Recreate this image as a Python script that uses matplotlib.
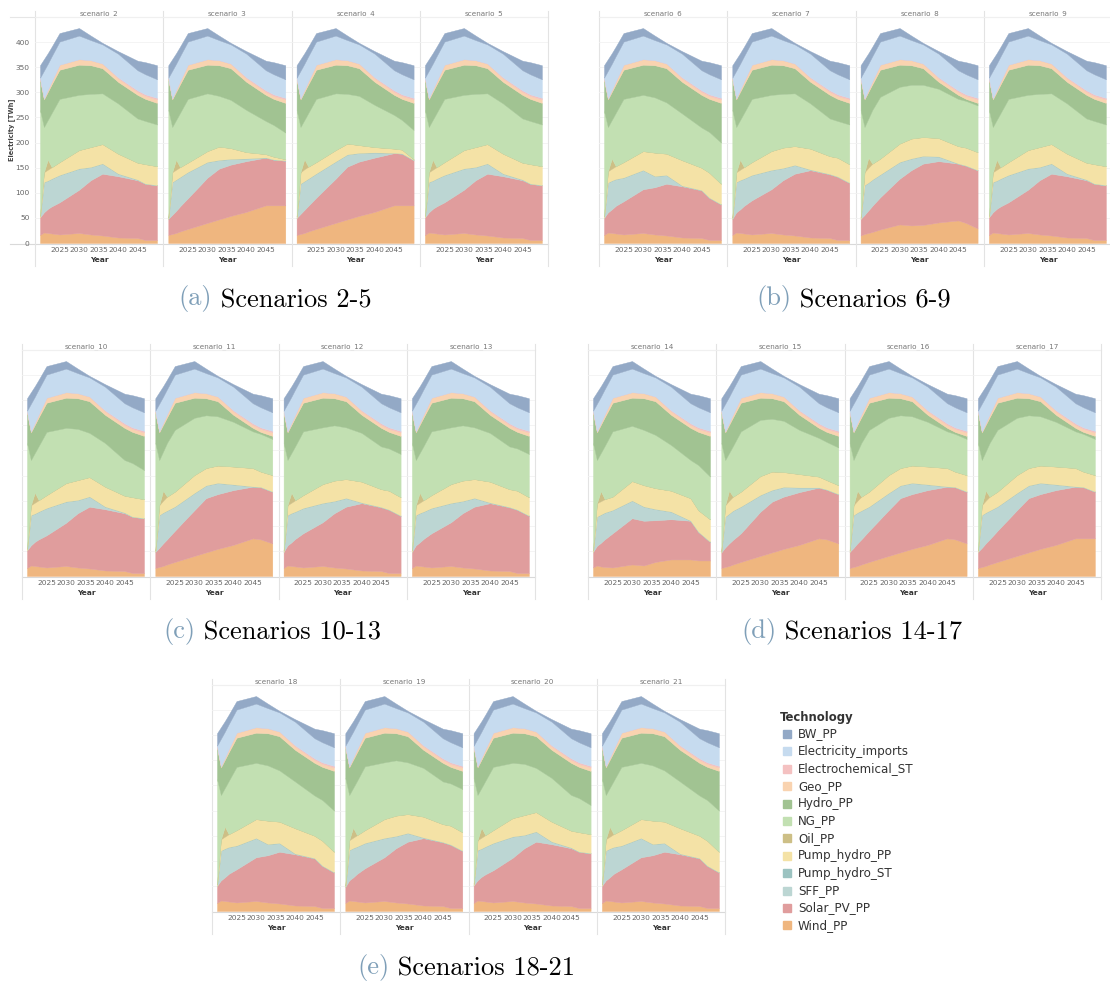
import matplotlib
matplotlib.use("Agg")
import matplotlib.pyplot as plt
from matplotlib.patches import Rectangle
import numpy as np

W, H = 1110, 981
PW = 128.3          # width of one facet panel, px
PH = 226            # height of plot area, px

YEARS = [2020, 2021, 2022, 2023, 2025, 2030, 2033, 2036, 2040, 2045, 2047, 2050]

TECHS = ['BW_PP', 'Electricity_imports', 'Electrochemical_ST', 'Geo_PP', 'Hydro_PP',
         'NG_PP', 'Oil_PP', 'Pump_hydro_PP', 'Pump_hydro_ST', 'SFF_PP',
         'Solar_PV_PP', 'Wind_PP']
COLORS = ['#93a9c6', '#c6dbef', '#f4c1c1', '#f9d3b0', '#a1c392',
          '#c2e0b2', '#cdbf86', '#f4e2a6', '#9cc3c1', '#bcd6d3',
          '#e09d9d', '#efb67f']

# layers shared by all scenarios (TWh)
OIL = [0, 0, 20, 0, 0, 0, 0, 0, 0, 0, 0, 0]
PHST = [0, 0.5, 0.5, 0.5, 0.5, 0.5, 0.5, 0.5, 0.5, 0.5, 0.5, 0.5]
HYDRO_TOP = [325, 286, 301, 316, 345, 355, 354, 348, 321, 295, 287, 279]
GEO = [3, 2, 4, 6, 10, 11, 10, 9, 7, 6, 6, 7]
ECHEM = [0, 0, 0, 0, 0, 0, 0, 0.5, 2, 3, 3, 3]
IMPORTS = [1, 55, 52, 50, 46, 47, 40, 38, 47, 40, 40, 37]
BW = [25, 23, 21, 19, 17, 15, 9, 3, 5, 19, 24, 28]

# wind generation
WIND_LOW = [16, 21, 20, 19, 17, 20, 17, 15, 11, 10, 6, 6]
WIND_RAMP = [16, 18, 20, 23, 28, 40, 47, 54, 62, 75, 75, 75]
WIND_RAMP2 = [16, 18, 20, 23, 28, 40, 47, 54, 62, 75, 73, 65]
WIND_MID = [15, 18, 20, 22, 27, 37, 35, 36, 41, 45, 40, 29]
WIND_S14 = [17, 21, 19, 18, 17, 23, 21, 28, 33, 33, 31, 31]

# upper edge of the solar band
SOLAR_A = [51, 61, 68, 73, 81, 106, 125, 138, 133, 125, 118, 115]
SOLAR_B = [48, 61, 67, 74, 85, 107, 125, 138, 145, 137, 132, 120]
SOLAR_C = [50, 61, 67, 74, 83, 107, 111, 118, 113, 105, 90, 77]
SOLAR_14 = [48, 60, 66, 73, 85, 115, 110, 111, 113, 110, 88, 68]
SOLAR_H = [48, 56, 64, 73, 89, 130, 148, 156, 163, 170, 166, 164]
SOLAR_H4 = [50, 58, 66, 74, 90, 128, 152, 162, 170, 179, 178, 165]
SOLAR_H11 = [48, 56, 65, 73, 90, 131, 155, 163, 171, 178, 177, 168]
SOLAR_H15 = [47, 57, 65, 72, 85, 128, 148, 158, 167, 176, 172, 163]
SOLAR_M = [48, 56, 65, 74, 91, 128, 145, 158, 163, 158, 154, 145]

# upper edge of the SFF band
SFF_A = [51, 121, 124, 128, 135, 148, 151, 158, 138, 126, 118, 115]
SFF_B = [48, 121, 125, 128, 135, 145, 149, 155, 146, 137, 132, 120]
SFF_C = [50, 120, 124, 127, 130, 145, 133, 135, 114, 105, 90, 77]
SFF_14 = [48, 118, 122, 126, 131, 150, 138, 133, 128, 110, 88, 68]
SFF_H = [48, 121, 126, 131, 141, 161, 165, 167, 168, 170, 166, 164]
SFF_H4 = [50, 118, 123, 128, 138, 162, 176, 179, 180, 179, 178, 165]
SFF_H11 = [48, 121, 126, 130, 138, 165, 180, 185, 182, 178, 177, 168]
SFF_H15 = [47, 118, 124, 130, 138, 161, 171, 177, 176, 176, 172, 163]
SFF_M = [48, 115, 120, 126, 136, 161, 168, 173, 172, 158, 154, 145]

# upper edge of the pump hydro band
PUMP_A = [54, 141, 146, 151, 161, 185, 191, 197, 178, 160, 157, 153]
PUMP_B = [51, 141, 146, 151, 161, 183, 190, 193, 188, 173, 170, 157]
PUMP_C = [53, 143, 148, 153, 161, 183, 180, 178, 165, 150, 140, 118]
PUMP_14 = [51, 145, 149, 153, 158, 189, 181, 175, 170, 155, 131, 113]
PUMP_H = [51, 141, 146, 151, 160, 183, 192, 189, 181, 177, 172, 167]
PUMP_H4 = [53, 141, 147, 152, 161, 185, 198, 195, 191, 188, 186, 167]
PUMP_H11 = [51, 141, 150, 158, 168, 201, 215, 220, 218, 215, 208, 201]
PUMP_H15 = [50, 141, 150, 158, 168, 199, 208, 207, 203, 198, 191, 181]
PUMP_M = [51, 141, 150, 158, 168, 198, 208, 211, 209, 193, 190, 181]

# upper edge of the natural gas band
NG_A = [265, 231, 245, 259, 287, 295, 297, 298, 278, 248, 243, 236]
NG_A10 = [265, 231, 245, 259, 287, 295, 293, 285, 265, 231, 225, 211]
NG_B = [265, 231, 245, 259, 288, 296, 300, 296, 285, 258, 254, 243]
NG_C = [263, 231, 245, 259, 287, 295, 290, 280, 258, 230, 221, 200]
NG_14 = [265, 231, 245, 259, 288, 299, 291, 281, 261, 231, 221, 198]
NG_H = [265, 231, 245, 259, 287, 298, 293, 285, 265, 243, 235, 220]
NG_H4 = [265, 231, 245, 259, 287, 298, 297, 293, 275, 255, 245, 225]
NG_H11 = [265, 231, 248, 265, 291, 315, 320, 318, 307, 288, 283, 273]
NG_H15 = [265, 231, 245, 259, 288, 311, 313, 309, 291, 275, 267, 256]
NG_M = [265, 231, 248, 265, 291, 311, 315, 315, 307, 287, 283, 274]

SCENARIOS = {
    2: (WIND_LOW, SOLAR_A, SFF_A, PUMP_A, NG_A),
    3: (WIND_RAMP, SOLAR_H, SFF_H, PUMP_H, NG_H),
    4: (WIND_RAMP, SOLAR_H4, SFF_H4, PUMP_H4, NG_H4),
    5: (WIND_LOW, SOLAR_A, SFF_A, PUMP_A, NG_A),
    6: (WIND_LOW, SOLAR_C, SFF_C, PUMP_C, NG_C),
    7: (WIND_LOW, SOLAR_B, SFF_B, PUMP_B, NG_A),
    8: (WIND_MID, SOLAR_M, SFF_M, PUMP_M, NG_M),
    9: (WIND_LOW, SOLAR_A, SFF_A, PUMP_A, NG_A),
    10: (WIND_LOW, SOLAR_A, SFF_A, PUMP_A, NG_A10),
    11: (WIND_RAMP2, SOLAR_H11, SFF_H11, PUMP_H11, NG_H11),
    12: (WIND_LOW, SOLAR_B, SFF_B, PUMP_B, NG_B),
    13: (WIND_LOW, SOLAR_B, SFF_B, PUMP_B, NG_B),
    14: (WIND_S14, SOLAR_14, SFF_14, PUMP_14, NG_14),
    15: (WIND_RAMP2, SOLAR_H15, SFF_H15, PUMP_H15, NG_H15),
    16: (WIND_RAMP2, SOLAR_H11, SFF_H11, PUMP_H11, NG_H11),
    17: (WIND_RAMP, SOLAR_H11, SFF_H11, PUMP_H11, NG_H11),
    18: (WIND_LOW, SOLAR_C, SFF_C, PUMP_C, NG_C),
    19: (WIND_LOW, SOLAR_B, SFF_B, PUMP_B, NG_B),
    20: (WIND_LOW, SOLAR_A, SFF_A, PUMP_A, NG_A10),
    21: (WIND_LOW, SOLAR_C, SFF_C, PUMP_C, NG_C),
}

# (letter, caption, scenarios, group left x, plot top y, caption start x, caption y)
GROUPS = [
    ('(a)', ' Scenarios 2-5', [2, 3, 4, 5], 35, 17, 178, 295),
    ('(b)', ' Scenarios 6-9', [6, 7, 8, 9], 599, 17, 756, 295),
    ('(c)', ' Scenarios 10-13', [10, 11, 12, 13], 22, 350, 163, 628),
    ('(d)', ' Scenarios 14-17', [14, 15, 16, 17], 588, 350, 741, 628),
    ('(e)', ' Scenarios 18-21', [18, 19, 20, 21], 212, 685, 357, 964),
]

plt.rcParams['font.family'] = ['DejaVu Sans']

fig = plt.figure(figsize=(W / 100, H / 100), dpi=100)
ov = fig.add_axes([0, 0, 1, 1], zorder=0)
ov.set_xlim(0, W)
ov.set_ylim(H, 0)
ov.axis('off')


def stack_layers(sc):
    wind, solar_top, sff_top, pump_top, ng_top = [np.array(a, float) for a in SCENARIOS[sc]]
    solar = solar_top - wind
    sff = sff_top - solar_top
    phpp = pump_top - sff_top - np.array(PHST)
    ng = ng_top - pump_top - np.array(OIL)
    hydro = np.array(HYDRO_TOP) - ng_top
    # bottom to top: reverse legend order
    return [wind, solar, sff, PHST, phpp, OIL, ng, hydro, GEO, ECHEM, IMPORTS, BW]


layer_colors = COLORS[::-1]

for letter, caption, scens, gx, ytop, cx, cy in GROUPS:
    ybot = ytop + PH
    first_group = letter == '(a)'
    lx = gx - 25 if first_group else gx
    ov.plot([lx, gx + 4 * PW], [ytop, ytop], color='#e6e6e6', lw=0.8)
    ov.plot([lx, gx + 4 * PW], [ybot + 0.5, ybot + 0.5], color='#d9d9d9', lw=0.8)
    for k in range(5):
        ov.plot([gx + k * PW] * 2, [ytop - 6, ybot + 23], color='#e3e3e3', lw=0.8)

    for i, sc in enumerate(scens):
        x = gx + i * PW
        ax = fig.add_axes([x / W, 1 - ybot / H, PW / W, PH / H], zorder=2)
        ax.patch.set_alpha(0)
        ax.set_xlim(2020 - 5 / 3.9, 2050 + 6.3 / 3.9)
        ax.set_ylim(0, 450)
        base = np.zeros(len(YEARS))
        for vals, col in zip(stack_layers(sc), layer_colors):
            top = base + np.array(vals, float)
            ax.fill_between(YEARS, base, top, color=col, lw=0.3, edgecolor=col)
            base = top
        for s in ax.spines.values():
            s.set_visible(False)
        ax.set_yticks(range(0, 451, 50))
        ax.yaxis.grid(True, color='#f2f2f2', lw=0.6)
        ax.set_axisbelow(True)
        ax.set_xticks([2025, 2030, 2035, 2040, 2045])
        ax.tick_params(length=0, labelsize=5.4, labelcolor='#666666', pad=3)
        ax.set_xlabel('Year', fontsize=5.4, fontweight='bold', color='#333333', labelpad=3)
        if first_group and i == 0:
            ax.set_yticklabels([str(v) if v < 450 else '' for v in range(0, 451, 50)])
            ax.tick_params(axis='y', pad=4)
        else:
            ax.tick_params(labelleft=False)
        ov.text(x + PW / 2, ytop - 3, f'scenario_{sc}', ha='center', va='center',
                fontsize=5.2, color='#777777')

    t = ov.text(cx, cy, letter, fontfamily='cmr10', fontsize=19, color='#7f9fb8',
                ha='left', va='center_baseline')
    ov.annotate(caption, xy=(1, 0), xycoords=t, fontfamily='cmr10', fontsize=19,
                color='black', ha='left', va='bottom')

ov.text(12, 130, 'Electricity [TWh]', rotation=90, ha='center', va='center',
        fontsize=4.8, fontweight='bold', color='#444444')

# legend
ov.text(780, 718, 'Technology', fontsize=8.4, fontweight='bold', color='#333333', va='center')
for i, (name, col) in enumerate(zip(TECHS, COLORS)):
    y = 734 + i * 17.4
    ov.add_patch(Rectangle((783, y - 4), 8, 8, color=col))
    ov.text(798, y, name, fontsize=8.6, color='#333333', va='center')

fig.savefig('out.png', dpi=100)
